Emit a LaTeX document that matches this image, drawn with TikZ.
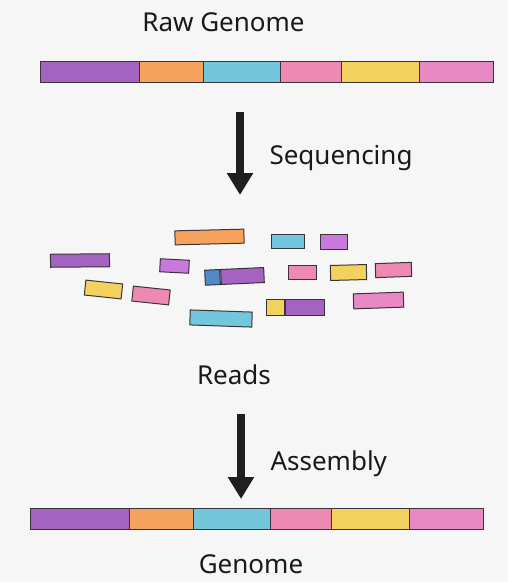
\documentclass[tikz,border=0pt]{standalone}
\usepackage{fontspec}
\setmainfont{Noto Sans}
\usepackage{xcolor}
\usetikzlibrary{arrows.meta}

\definecolor{purp}{HTML}{A463C0}
\definecolor{orng}{HTML}{F5A25C}
\definecolor{cyan}{HTML}{72C7DD}
\definecolor{pink}{HTML}{EE89B4}
\definecolor{yell}{HTML}{F2D15F}
\definecolor{orch}{HTML}{E889C6}
\definecolor{viol}{HTML}{C879DC}
\definecolor{blu}{HTML}{4F8BC9}
\definecolor{edge}{HTML}{3B333B}
\definecolor{bg}{HTML}{F7F6F6}

\begin{document}
\begin{tikzpicture}[x=1pt,y=-1pt,
    seg/.style={draw=edge,line width=1pt,inner sep=0pt,minimum height=21pt,anchor=west},
    read/.style={draw=edge,line width=1pt,inner sep=0pt,minimum height=14pt},
    heading/.style={font=\fontsize{26}{30}\selectfont,text=black!90,anchor=base},
    flow/.style={line width=8pt,draw=black!88,-{Triangle[width=25pt,length=22pt]}}]
    \fill[bg] (0,0) rectangle (508,582);

    % genome bars
    \foreach \x/\w/\c [count=\i] in {40/99/purp,139/64/orng,203/77/cyan,280/61/pink,341/78/yell,419/74/orch} {
        \node[seg, fill=\c, minimum width=\w pt] (raw_\i) at (\x,72) {};
        \node[seg, fill=\c, minimum width=\w pt] (genome_\i) at (\x-10,519) {};
    }

    \node[heading] (raw_label) at (223.5,31.5) {Raw Genome};
    \node[heading, anchor=base west] (seq_label) at (266,164) {Sequencing};
    \node[heading] (reads_label) at (234,384) {Reads};
    \node[heading, anchor=base west] (asm_label) at (267,470) {Assembly};
    \node[heading] (genome_label) at (251,573) {Genome};

    % reads
    \node[read, fill=orng, minimum width=69pt, rotate=1.4] (read_1) at (209.5,237) {};
    \node[read, fill=purp, minimum width=59pt, minimum height=13pt, rotate=0.5] (read_2) at (80,260.5) {};
    \node[read, fill=viol, minimum width=29pt, minimum height=13pt, rotate=-3] (read_3) at (174.5,266) {};
    \node[read, fill=purp, minimum width=43pt, minimum height=15pt, rotate=2.6] (read_4b) at (242.5,276) {};
    \node[read, fill=blu, minimum width=15pt, minimum height=15pt, rotate=2.6, anchor=east] (read_4a) at (read_4b.west) {};
    \node[read, fill=yell, minimum width=37pt, minimum height=15pt, rotate=-6] (read_5) at (103.5,289.5) {};
    \node[read, fill=pink, minimum width=37pt, minimum height=15pt, rotate=-6] (read_6) at (151,295.5) {};
    \node[read, fill=cyan, minimum width=62pt, minimum height=15pt, rotate=-2] (read_7) at (221,318.5) {};
    \node[read, fill=cyan, minimum width=33pt] (read_8) at (287.5,241.5) {};
    \node[read, fill=viol, minimum width=27pt, minimum height=15pt] (read_9) at (333.5,242) {};
    \node[read, fill=pink, minimum width=28pt] (read_10) at (302,272.5) {};
    \node[read, fill=yell, minimum width=36pt, minimum height=15pt, rotate=1.5] (read_11) at (348.5,272.5) {};
    \node[read, fill=pink, minimum width=36pt, rotate=2] (read_12) at (393.5,270) {};
    \node[read, fill=purp, minimum width=39pt, minimum height=16pt] (read_13b) at (304.5,307.5) {};
    \node[read, fill=yell, minimum width=18pt, minimum height=16pt, anchor=east] (read_13a) at (read_13b.west) {};
    \node[read, fill=orch, minimum width=50pt, minimum height=15pt, rotate=2] (read_14) at (378.5,300.5) {};

    % steps
    \coordinate (seq_top) at (240,112);
    \coordinate (seq_tip) at (240,195);
    \coordinate (asm_top) at (241,414);
    \coordinate (asm_tip) at (241,499);
    \draw[flow] (seq_top) -- (seq_tip);
    \draw[flow] (asm_top) -- (asm_tip);
\end{tikzpicture}
\end{document}
